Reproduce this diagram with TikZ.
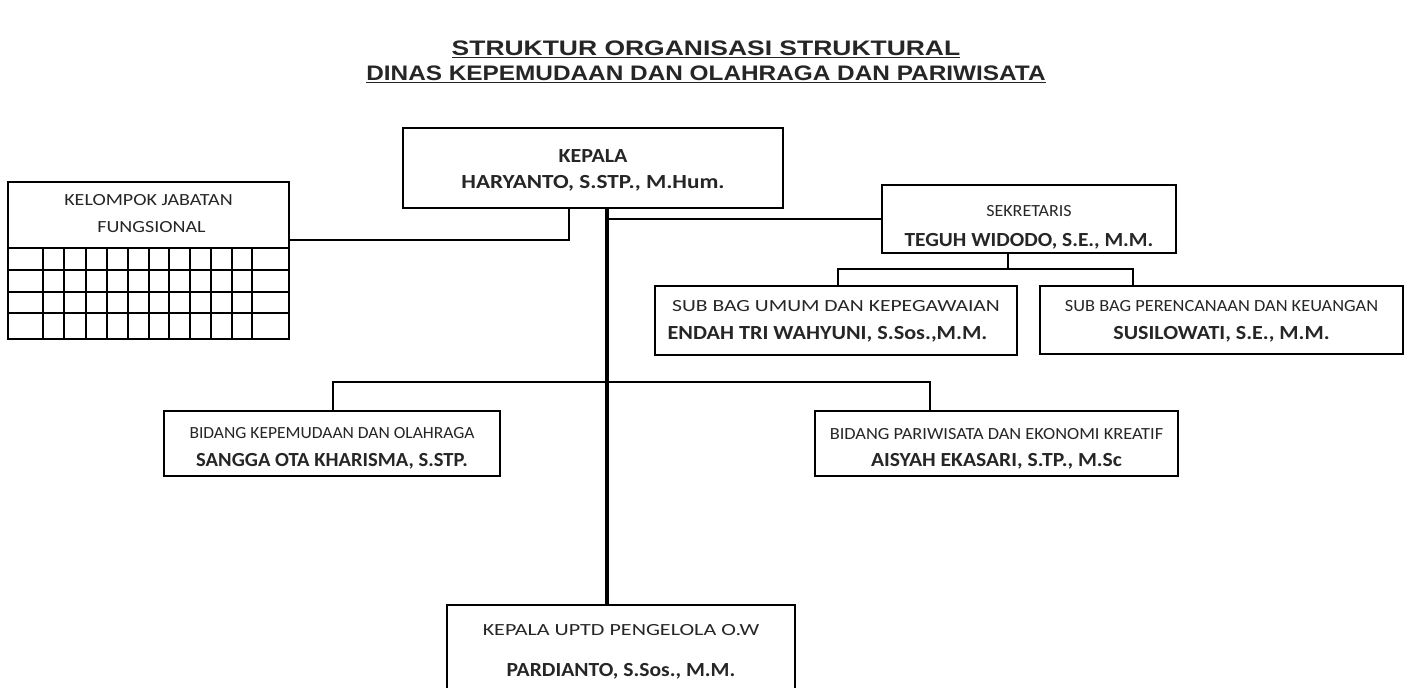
\documentclass[tikz,border=0pt]{standalone}
\usepackage{fontspec}
\setmainfont{Carlito}
\newfontfamily\titlefont{Liberation Sans}
\definecolor{ink}{HTML}{262626}
\newcommand{\sm}[2]{\scalebox{#1}[1]{\fontsize{17}{17}\selectfont #2}}
\newcommand{\bd}[2]{\scalebox{#1}[1]{\bfseries\fontsize{20}{20}\selectfont #2}}
% a line of box text with set height (top extra) and zero depth
\newcommand{\zl}[2]{\raisebox{0pt}[#1pt][0pt]{#2}}
\begin{document}
\begin{tikzpicture}[x=1pt,y=-1pt,
  box/.style={draw=black,line width=2pt,fill=white,align=center,inner sep=0pt,text=ink},
  lnk/.style={draw=black,line width=2pt},
  mainlnk/.style={draw=black,line width=3.5pt},
  gridline/.style={draw=black,line width=1.6pt},
]
\useasboundingbox (0,0) rectangle (1409,688);
\clip (0,0) rectangle (1409,688);
\fill[white] (0,0) rectangle (1409,688);

% title
\node[text=ink,align=center,inner sep=0pt,font=\titlefont\bfseries\fontsize{21}{25}\selectfont] (title) at (706,62)
  {\scalebox{1.26}[1]{\underline{STRUKTUR ORGANISASI STRUKTURAL}}\\\scalebox{1.16}[1]{\underline{DINAS KEPEMUDAAN DAN OLAHRAGA DAN PARIWISATA}}};

% boxes
\node[box,minimum width=380,minimum height=80,font=\fontsize{20}{26}\selectfont] (kep) at (593,168)
  {\zl{15}{\bd{1.1}{KEPALA}}\\\zl{0}{\bd{1.16}{HARYANTO, S.STP., M.Hum.}}};

\node[box,minimum width=281,minimum height=66,font=\fontsize{17}{27}\selectfont] (kel) at (148.5,215)
  {\zl{8}{\sm{1.18}{KELOMPOK JABATAN}}\\\zl{0}{\hspace*{6pt}\sm{1.18}{FUNGSIONAL}}};

\node[box,minimum width=294,minimum height=68,font=\fontsize{17}{30}\selectfont] (sek) at (1029,219)
  {\zl{25}{\sm{1.06}{SEKRETARIS}}\\\zl{0}{\bd{1.07}{TEGUH WIDODO, S.E., M.M.}}};

\node[box,minimum width=362,minimum height=69,font=\fontsize{17}{28}\selectfont] (sbu) at (836,320)
  {\zl{11}{\sm{1.27}{SUB BAG UMUM DAN KEPEGAWAIAN}}\\\zl{0}{\hspace*{-17pt}\bd{1.11}{ENDAH TRI WAHYUNI, S.Sos.,M.M.}}};

\node[box,minimum width=363,minimum height=68,font=\fontsize{17}{28}\selectfont] (sbp) at (1221.5,320)
  {\zl{11}{\sm{1.08}{SUB BAG PERENCANAAN DAN KEUANGAN}}\\\zl{0}{\bd{1.1}{SUSILOWATI, S.E., M.M.}}};

\node[box,minimum width=336,minimum height=65,font=\fontsize{17}{28}\selectfont] (bk) at (332,443.5)
  {\zl{18}{\sm{1.03}{BIDANG KEPEMUDAAN DAN OLAHRAGA}}\\\zl{0}{\bd{1.03}{SANGGA OTA KHARISMA, S.STP.}}};

\node[box,minimum width=363,minimum height=65,font=\fontsize{17}{27}\selectfont] (bp) at (996.5,443.5)
  {\zl{18}{\sm{1.08}{BIDANG PARIWISATA DAN EKONOMI KREATIF}}\\\zl{0}{\bd{1.08}{AISYAH EKASARI, S.TP., M.Sc}}};

\node[box,minimum width=348,minimum height=96,font=\fontsize{17}{41}\selectfont] (uptd) at (621,653)
  {\zl{6}{\sm{1.3}{KEPALA UPTD PENGELOLA O.W}}\\\zl{0}{\bd{1.08}{PARDIANTO, S.Sos., M.M.}}};

% grid under Kelompok Jabatan Fungsional
\draw[gridline] (8,248) rectangle (289,339);
\foreach \yy in {270,292,313} \draw[gridline] (8,\yy) -- (289,\yy);
\foreach \xx in {43,64,86,107,128,149,169,190,211,232,252} \draw[gridline] (\xx,248) -- (\xx,339);

% connector coordinates
\coordinate (jk) at (569,240);
\coordinate (mx) at (607,382);
\coordinate (sd) at (1008,269);
\coordinate (sl) at (838,269);
\coordinate (sr) at (1133,269);
\coordinate (bl) at (333,382);
\coordinate (br) at (930,382);

% connectors
\draw[lnk] (kel.east |- jk) -- (jk) -- (jk |- kep.south);
\draw[lnk] (mx |- sek.west) -- (sek.west);
\draw[lnk] (sd |- sek.south) -- (sd);
\draw[lnk] (sl |- sbu.north) -- (sl) -- (sr) -- (sr |- sbp.north);
\draw[lnk] (bl |- bk.north) -- (bl) -- (br) -- (br |- bp.north);
\draw[mainlnk] (mx |- kep.south) -- (mx |- uptd.north);
\end{tikzpicture}
\end{document}
